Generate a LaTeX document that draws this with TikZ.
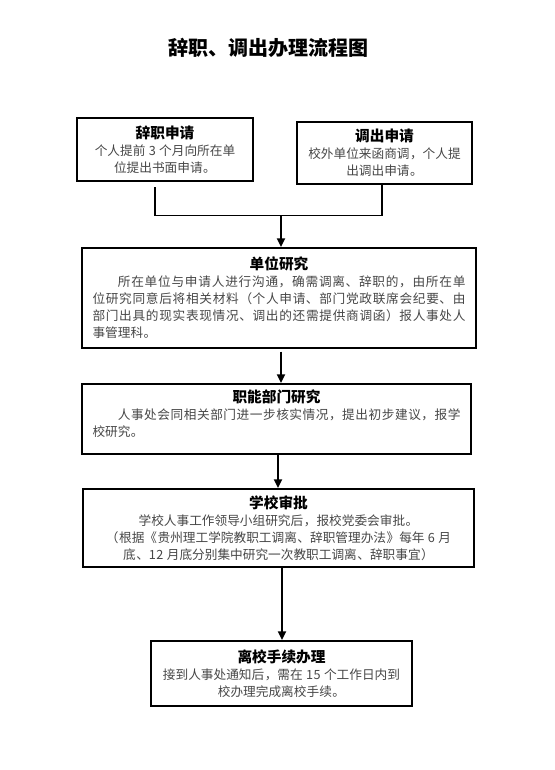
\documentclass[tikz,border=0pt]{standalone}
\usepackage{fontspec}
\setmainfont{Noto Sans CJK SC}
\newfontfamily\bodyfont{Noto Sans CJK SC}[LetterSpace=4]
\XeTeXlinebreaklocale "zh"
\XeTeXlinebreakskip=0pt plus 1.5pt
\usetikzlibrary{arrows.meta}
\newcommand{\hd}[1]{{\color{black}\rmfamily\fontsize{11pt}{12.75pt}\selectfont\bfseries #1}}
\tikzset{
  box/.style={draw=black, line width=1.6pt, inner sep=0pt, fill=white,
    text=black!72, font=\bodyfont\fontsize{9.5pt}{12.75pt}\selectfont},
  conn/.style={line width=1.4pt, black},
  arr/.style={conn, -{Triangle[length=6.5pt,width=6pt]}}
}
\begin{document}
\begin{tikzpicture}[x=0.75pt,y=-0.75pt]
\useasboundingbox (0,0) rectangle (554,770);
\node (title) at (268,48) {\fontsize{15pt}{18pt}\selectfont\bfseries 辞职、调出办理流程图};

\node[box, minimum width=132pt, minimum height=47.25pt, text width=122pt, align=flush center] (b1) at (165,149.5)
  {\hd{辞职申请}\\个人提前 3 个月向所在单\\位提出书面申请。};
\node[box, minimum width=131.25pt, minimum height=46.5pt, text width=122pt, align=flush center] (b2) at (384.5,153)
  {\hd{调出申请}\\校外单位来函商调，个人提\\出调出申请。};
\node[box, minimum width=295.5pt, minimum height=75pt, text width=279.75pt, align=justify] (b3) at (279,298)
  {\makebox[\linewidth]{\hd{单位研究}}\\\hspace*{2em}所在单位与申请人进行沟通，确需调离、辞职的，由所在单\linebreak 位研究同意后将相关材料（个人申请、部门党政联席会纪要、由\linebreak 部门出具的现实表现情况、调出的还需提供商调函）报人事处人\linebreak 事管理科。};
\node[box, minimum width=291.75pt, minimum height=52.5pt, text width=276pt, align=justify] (b4) at (276.5,419)
  {\makebox[\linewidth]{\hd{职能部门研究}}\\\hspace*{2em}人事处会同相关部门进一步核实情况，提出初步建议，报学\linebreak 校研究。\rule[-9pt]{0pt}{9pt}};
\node[box, minimum width=293.25pt, minimum height=58.5pt, text width=285pt, align=flush center] (b5) at (278.5,528)
  {\hd{学校审批}\\学校人事工作领导小组研究后，报校党委会审批。\\（根据《贵州理工学院教职工调离、辞职管理办法》每年 6 月\\底、12 月底分别集中研究一次教职工调离、辞职事宜）};
\node[box, minimum width=195.75pt, minimum height=48.75pt, text width=190pt, align=flush center] (b6) at (281.5,673.5)
  {\hd{离校手续办理}\\接到人事处通知后，需在 15 个工作日内到\\校办理完成离校手续。};

\coordinate (jl) at (155,215.5);
\coordinate (jr) at (382,215.5);
\coordinate (jm) at (281,215.5);
\coordinate (x1) at (281,0);
\coordinate (x2) at (278,0);
\coordinate (x3) at (282,0);

\draw[conn] (b1.south -| jl) ++(0,5) -- (jl) -- (jr) -- (b2.south -| jr);
\draw[arr] (jm) -- (b3.north -| jm);
\draw[arr] ([yshift=-2pt]b3.south -| x1) -- (b4.north -| x1);
\draw[arr] (b4.south -| x2) -- (b5.north -| x2);
\draw[arr] (b5.south -| x3) -- (b6.north -| x3);
\end{tikzpicture}
\end{document}
